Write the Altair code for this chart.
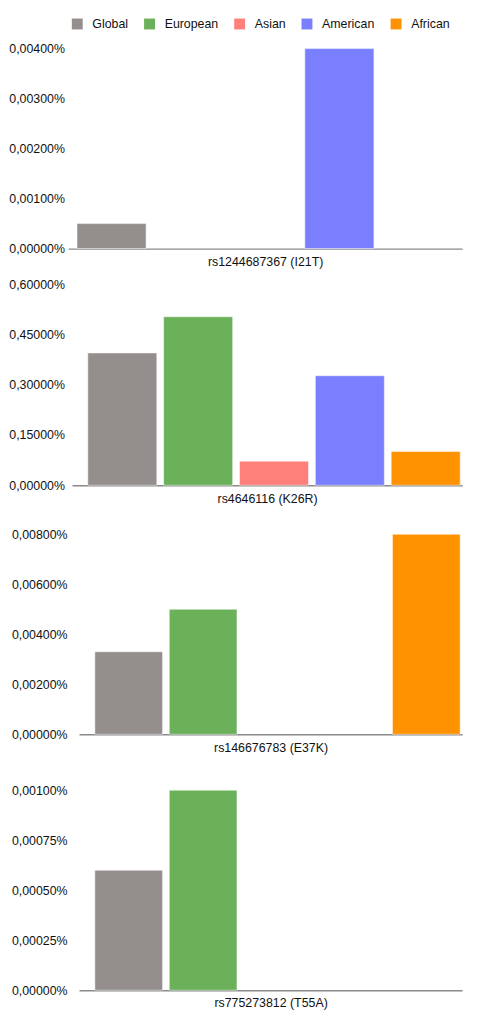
import altair as alt
import pandas as pd

populations = ["Global", "European", "Asian", "American", "African"]
colors = ["#948f8d", "#6ab15a", "#ff807b", "#797fff", "#ff9200"]

variants = ["rs1244687367 (I21T)", "rs4646116 (K26R)", "rs146676783 (E37K)", "rs775273812 (T55A)"]

# allele frequencies in percent
freq_i21t = [0.0005, 0.0, 0.0, 0.004, 0.0]
freq_k26r = [0.395, 0.503, 0.072, 0.327, 0.101]
freq_e37k = [0.0033, 0.005, 0.0, 0.0, 0.008]
freq_t55a = [0.0006, 0.001, 0.0, 0.0, 0.0]

ticks_i21t = [0, 0.001, 0.002, 0.003, 0.004]
ticks_k26r = [0, 0.15, 0.30, 0.45, 0.60]
ticks_e37k = [0, 0.002, 0.004, 0.006, 0.008]
ticks_t55a = [0, 0.00025, 0.0005, 0.00075, 0.001]

FONT = "Liberation Sans"
LABEL_EXPR = "replace(format(datum.value, '.5f'), '.', ',') + '%'"
W = 382.7


def panel(variant, freqs, ticks, top_ratio, height, rng, pad_outer, align, y_off, show_legend, tpad=7):
    df = pd.DataFrame({"population": populations, "freq": freqs})
    df = df[df["freq"] > 0]
    if show_legend:
        legend = alt.Legend(
            title=None, orient="none", legendX=-12.3, legendY=-31.25, direction="horizontal",
            symbolType="square", symbolSize=121, symbolStrokeWidth=0, symbolOpacity=1,
            labelFont=FONT, labelFontSize=12.5, labelColor="#111111", labelOffset=9,
            columnPadding=15, padding=0,
        )
    else:
        legend = None
    return alt.Chart(df).mark_bar(stroke="white", strokeWidth=1, strokeOpacity=0.5).encode(
        x=alt.X(
            "population:N",
            sort=populations,
            scale=alt.Scale(domain=populations, range=rng, paddingInner=0.09,
                            paddingOuter=pad_outer, align=align),
            axis=alt.Axis(
                title=variant, labels=False, ticks=False, domain=True, domainColor="#8a8a8a",
                domainWidth=1.5, titlePadding=tpad, titleFont=FONT, titleFontSize=12.5,
                titleFontWeight="normal", titleColor="#111111",
            ),
        ),
        y=alt.Y(
            "freq:Q",
            scale=alt.Scale(domain=[0, ticks[-1] * top_ratio], nice=False),
            axis=alt.Axis(
                values=ticks, labelExpr=LABEL_EXPR, grid=False, ticks=False, domain=False,
                labelPadding=12, offset=y_off, labelFont=FONT, labelFontSize=12.5,
                labelColor="#111111", title=None, labelOverlap=False,
            ),
        ),
        color=alt.Color("population:N", scale=alt.Scale(domain=populations, range=colors),
                        legend=legend),
    ).properties(width=W, height=height)


p1 = panel(variants[0], freq_i21t, ticks_i21t, 1.0, 202, [-15.3, 382.7], 0.1395, 0.42, 7, True)
p2 = panel(variants[1], freq_k26r, ticks_k26r, 1.0, 203, [-11.3, 382.7], 0.1168, 0.889, 7, False)
p3 = panel(variants[2], freq_e37k, ticks_e37k, 221.5 / 202.0, 221.5, [-4.3, 382.7], 0.12, 0.889, 4.3, False)
p4 = panel(variants[3], freq_t55a, ticks_t55a, 229.0 / 202.0, 229.0, [-4.3, 382.7], 0.12, 0.889, 4.3, False, 6)

chart = alt.vconcat(p1, p2, p3, p4, spacing=10).resolve_scale(
    color="independent"
).properties(
    padding={"left": 0, "top": 4, "right": 0, "bottom": 0},
).configure_view(
    strokeWidth=0
)

chart.save("out.html", embed_options={"renderer": "svg", "actions": False})
